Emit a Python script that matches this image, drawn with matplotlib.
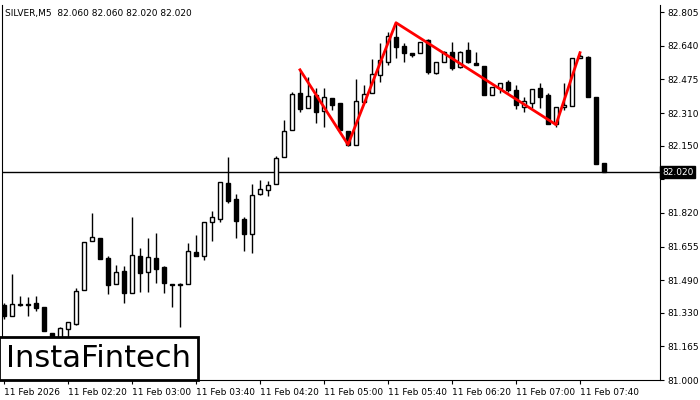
import matplotlib.pyplot as plt
from matplotlib.patches import Rectangle

# SILVER M5 candles
opens = [81.370, 81.316, 81.370, 81.370, 81.380, 81.356, 81.233, 81.190, 81.248, 81.277,
         81.444, 81.684, 81.699, 81.601, 81.473, 81.537, 81.429, 81.610, 81.532, 81.601,
         81.552, 81.473, 81.468, 81.473, 81.630, 81.606, 81.777, 81.792, 81.968, 81.890,
         81.792, 81.718, 81.915, 81.934, 81.964, 82.096, 82.228, 82.410, 82.336, 82.400,
         82.322, 82.385, 82.360, 82.223, 82.155, 82.365, 82.410, 82.498, 82.562, 82.684,
         82.640, 82.606, 82.606, 82.670, 82.508, 82.562, 82.611, 82.537, 82.620, 82.557,
         82.542, 82.400, 82.434, 82.464, 82.424, 82.341, 82.360, 82.434, 82.400, 82.257,
         82.341, 82.346, 82.581, 82.586, 82.390, 82.066]
highs = [81.380, 81.522, 81.410, 81.405, 81.410, 81.356, 81.233, 81.262, 81.287, 81.449,
         81.679, 81.820, 81.699, 81.606, 81.562, 81.557, 81.800, 81.650, 81.699, 81.723,
         81.557, 81.473, 81.478, 81.674, 81.710, 81.777, 81.830, 81.973, 82.096, 81.915,
         81.802, 81.964, 81.983, 81.975, 82.100, 82.277, 82.415, 82.522, 82.488, 82.434,
         82.434, 82.385, 82.360, 82.223, 82.478, 82.449, 82.576, 82.655, 82.709, 82.753,
         82.655, 82.606, 82.660, 82.675, 82.562, 82.615, 82.660, 82.615, 82.660, 82.611,
         82.542, 82.440, 82.459, 82.473, 82.449, 82.390, 82.429, 82.459, 82.410, 82.341,
         82.459, 82.581, 82.601, 82.590, 82.390, 82.066]
lows = [81.300, 81.316, 81.365, 81.312, 81.340, 81.238, 81.190, 81.190, 81.190, 81.268,
        81.444, 81.684, 81.596, 81.420, 81.473, 81.380, 81.429, 81.434, 81.434, 81.478,
        81.429, 81.356, 81.258, 81.470, 81.606, 81.590, 81.684, 81.777, 81.870, 81.699,
        81.635, 81.625, 81.910, 81.905, 81.964, 82.096, 82.228, 82.317, 82.336, 82.263,
        82.243, 82.326, 82.228, 82.150, 82.155, 82.365, 82.410, 82.464, 82.547, 82.581,
        82.562, 82.586, 82.606, 82.500, 82.503, 82.562, 82.522, 82.530, 82.557, 82.547,
        82.400, 82.400, 82.410, 82.415, 82.331, 82.317, 82.336, 82.336, 82.257, 82.243,
        82.326, 82.346, 82.581, 82.390, 82.061, 82.020]
closes = [81.312, 81.375, 81.372, 81.368, 81.351, 81.238, 81.190, 81.253, 81.287, 81.439,
          81.679, 81.704, 81.596, 81.464, 81.532, 81.429, 81.615, 81.527, 81.605, 81.547,
          81.478, 81.468, 81.470, 81.635, 81.610, 81.777, 81.802, 81.973, 81.880, 81.782,
          81.718, 81.910, 81.939, 81.959, 82.091, 82.223, 82.405, 82.330, 82.395, 82.317,
          82.390, 82.350, 82.228, 82.155, 82.370, 82.405, 82.503, 82.571, 82.689, 82.635,
          82.606, 82.596, 82.660, 82.513, 82.562, 82.611, 82.532, 82.611, 82.562, 82.547,
          82.400, 82.440, 82.459, 82.424, 82.350, 82.370, 82.429, 82.390, 82.257, 82.341,
          82.351, 82.581, 82.591, 82.390, 82.061, 82.020]

# pattern line (candle index, price)
pattern_idx = [37, 43, 49, 69, 72]
pattern_px = [82.522, 82.155, 82.753, 82.253, 82.606]

last_price = 82.020
y_ticks = [82.805, 82.640, 82.475, 82.310, 82.150, 81.985, 81.820, 81.655,
           81.490, 81.330, 81.165, 81.000]
x_tick_idx = [0, 8, 16, 24, 32, 40, 48, 56, 64, 72]
x_tick_labels = ["11 Feb 2026", "11 Feb 02:20", "11 Feb 03:00", "11 Feb 03:40",
                 "11 Feb 04:20", "11 Feb 05:00", "11 Feb 05:40", "11 Feb 06:20",
                 "11 Feb 07:00", "11 Feb 07:40"]

fig = plt.figure(figsize=(7, 4), dpi=100)
ax = fig.add_axes([2 / 700, 20 / 400, 658 / 700, 375 / 400])

w = 0.62
for i in range(len(opens)):
    o, h, l, c = opens[i], highs[i], lows[i], closes[i]
    ax.vlines(i, l, h, color="black", lw=1, zorder=2)
    bottom = min(o, c)
    height = max(abs(c - o), 0.004)
    face = "white" if c >= o else "black"
    ax.add_patch(Rectangle((i - w / 2, bottom), w, height, facecolor=face,
                           edgecolor="black", lw=1, zorder=3))

ax.plot(pattern_idx, pattern_px, color="red", lw=2, zorder=4)
ax.axhline(last_price, color="black", lw=1, zorder=1)

ax.set_xlim(-0.25, 82)
ax.set_ylim(81.003, 82.84)
ax.yaxis.tick_right()
ax.set_yticks(y_ticks)
ax.set_yticklabels([f"{v:.3f}" for v in y_ticks], fontsize=6.5)
ax.tick_params(axis="y", length=3, pad=2)
ax.set_xticks(x_tick_idx)
ax.set_xticklabels(x_tick_labels, fontsize=6.5, ha="left")
ax.tick_params(axis="x", length=3, pad=3)
ax.spines["top"].set_visible(False)

last_lbl = ax.text(1.003, last_price, f"{last_price:.3f}",
                   transform=ax.get_yaxis_transform(), fontsize=6.5, color="white",
                   va="center", ha="left", zorder=10,
                   bbox=dict(facecolor="black", edgecolor="black", pad=1.2))
last_lbl.set_clip_on(False)
# the 81.985 tick label sits under the last-price box in the reference
ax.get_yticklabels()[5].set_visible(False)

ax.text(0.005, 0.99, "SILVER,M5  82.060 82.060 82.020 82.020",
        transform=ax.transAxes, fontsize=6.5, va="top")

fig.text(6 / 700, 27 / 400, "InstaFintech", fontsize=22, va="bottom", ha="left",
         bbox=dict(facecolor="white", edgecolor="black", lw=2, pad=5))

fig.savefig("out.png", dpi=100)
